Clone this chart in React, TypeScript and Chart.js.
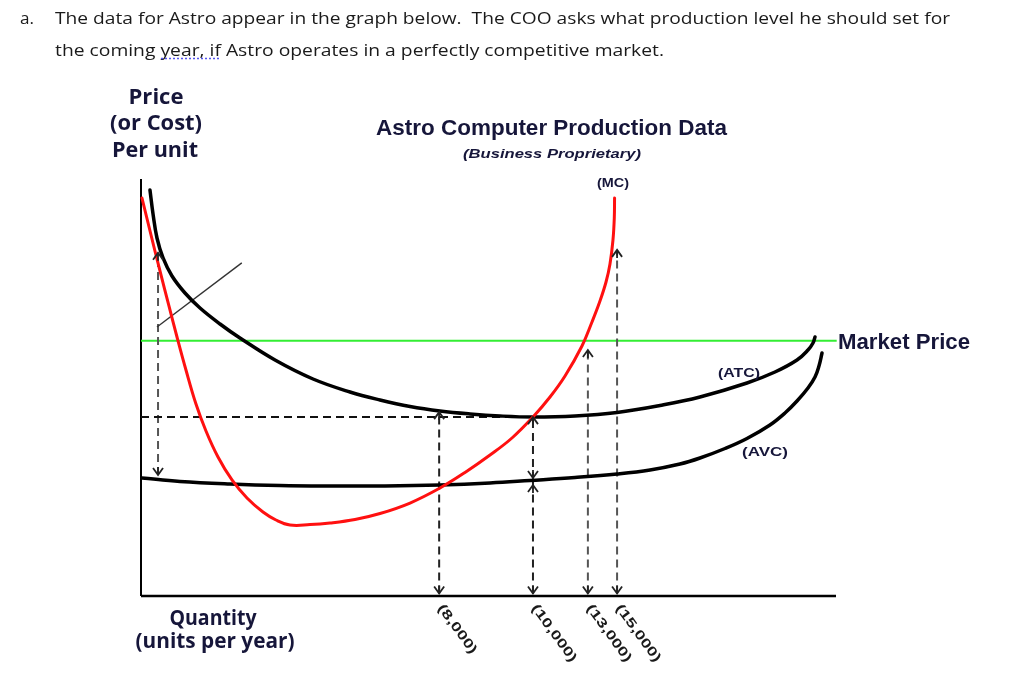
import React, { useEffect, useRef } from "react";
import { Chart, registerables } from "chart.js";

Chart.register(...registerables);

// ---- data (abstract chart units: 0..100 on both axes) ----
const mcPoints: [number, number][] = [
  [0.14, 95.44], [1.44, 86.57], [2.73, 77.94], [4.03, 69.54], [5.18, 62.11], [6.47, 54.2],
  [7.91, 46.04], [9.35, 39.57], [11.08, 33.33], [13.09, 27.82], [15.25, 23.5], [17.55, 20.14],
  [19.42, 18.23], [21.44, 17.03], [24.32, 17.12], [27.19, 17.51], [30.79, 18.35], [34.39, 19.78],
  [38.71, 22.3], [43.02, 25.9], [46.62, 29.62], [50.22, 33.81], [53.38, 37.89], [56.4, 42.93],
  [58.85, 47.72], [61.01, 52.76], [63.45, 59.95], [64.89, 65.71], [66.04, 70.74], [66.91, 75.3],
  [67.48, 79.62], [67.91, 85.37], [68.1, 90.65], [68.14, 95.44],
];
const atcPoints: [number, number][] = [
  [1.29, 97.36], [1.73, 91.61], [2.3, 85.85], [3.17, 81.06], [4.46, 76.74], [6.33, 72.66],
  [8.49, 69.06], [11.37, 65.23], [14.24, 61.87], [19.28, 56.59], [24.75, 52.04], [30.07, 48.92],
  [34.39, 47.0], [38.71, 45.44], [43.02, 44.36], [47.34, 43.65], [51.65, 43.17], [56.4, 42.93],
  [62.45, 43.17], [68.49, 44.0], [74.68, 45.68], [80.43, 47.72], [87.19, 51.08], [91.22, 53.72],
  [94.39, 56.59], [95.97, 58.99], [96.69, 60.67], [96.98, 62.11],
];
const avcPoints: [number, number][] = [
  [0.14, 28.3], [5.61, 27.46], [12.81, 26.86], [20.0, 26.5], [27.19, 26.38], [35.11, 26.38],
  [43.02, 26.62], [50.22, 27.1], [55.97, 27.7], [62.45, 28.42], [68.49, 29.26], [73.24, 30.22],
  [77.55, 31.65], [80.43, 33.09], [84.03, 35.37], [87.19, 37.77], [90.5, 41.01], [92.66, 43.88],
  [94.39, 46.76], [95.97, 49.88], [96.98, 52.52], [97.55, 55.16], [97.99, 58.27],
];
const marketPrice = 61.2;
const minAtc = 42.9;
const qtyTicks = [42.9, 56.4, 64.3, 68.5];
const qtyLabels = ["(8,000)", "(10,000)", "(13,000)", "(15,000)"];
// vertical guides: [x, yFrom, yTo]
const guides: [number, number, number][] = [
  [2.45, 29.0, 82.3],
  [42.9, 0.6, 44.1],
  [56.4, 27.8, 42.9],
  [56.4, 0.6, 27.4],
  [64.3, 0.6, 59.0],
  [68.5, 0.6, 83.0],
];
const arrowsUp: [number, number][] = [
  [2.45, 82.3], [42.9, 44.1], [56.4, 42.9], [56.4, 26.6], [64.3, 59.0], [68.5, 83.0],
];
const arrowsDown: [number, number][] = [
  [2.45, 29.0], [42.9, 0.6], [56.4, 28.3], [56.4, 0.6], [64.3, 0.6], [68.5, 0.6],
];
const pointerLine: [number, number][] = [[2.3, 64.5], [14.5, 79.9]];

const toXY = (pts: [number, number][]) => pts.map(([x, y]) => ({ x, y }));

function fitText(
  ctx: CanvasRenderingContext2D,
  text: string,
  x: number,
  y: number,
  width: number,
  font: string,
  color: string,
  align: "left" | "center" = "left"
) {
  ctx.save();
  ctx.font = font;
  ctx.fillStyle = color;
  ctx.textAlign = "left";
  ctx.textBaseline = "alphabetic";
  const w = ctx.measureText(text).width;
  const s = width / w;
  ctx.translate(x, y);
  ctx.scale(s, 1);
  ctx.fillText(text, align === "center" ? -w / 2 : 0, 0);
  ctx.restore();
}

const LABEL = "#16163a";

const annotPlugin = {
  id: "annot",
  afterDatasetsDraw(chart: any) {
    const { ctx } = chart;
    const xs = chart.scales.x;
    const ys = chart.scales.y;
    ctx.save();
    ctx.strokeStyle = "#222";
    ctx.lineWidth = 1.8;
    arrowsDown.forEach(([vx, vy]) => {
      const px = xs.getPixelForValue(vx);
      const py = ys.getPixelForValue(vy);
      ctx.beginPath();
      ctx.moveTo(px - 5, py - 7);
      ctx.lineTo(px, py);
      ctx.lineTo(px + 5, py - 7);
      ctx.moveTo(px, py);
      ctx.lineTo(px, py - 8);
      ctx.stroke();
    });
    arrowsUp.forEach(([vx, vy]) => {
      const px = xs.getPixelForValue(vx);
      const py = ys.getPixelForValue(vy);
      ctx.beginPath();
      ctx.moveTo(px - 5, py + 7);
      ctx.lineTo(px, py);
      ctx.lineTo(px + 5, py + 7);
      ctx.moveTo(px, py);
      ctx.lineTo(px, py + 8);
      ctx.stroke();
    });
    ctx.restore();
  },
  afterDraw(chart: any) {
    const { ctx } = chart;
    const xs = chart.scales.x;
    const ys = chart.scales.y;
    // header text
    const HF = '17px "Open Sans"';
    fitText(ctx, "a.", 20, 24, 14, HF, "#1a1a1a");
    fitText(
      ctx,
      "The data for Astro appear in the graph below.  The COO asks what production level he should set for",
      55, 24, 895, HF, "#1a1a1a"
    );
    fitText(
      ctx,
      "the coming year, if Astro operates in a perfectly competitive market.",
      55, 56, 609, HF, "#1a1a1a"
    );
    ctx.save();
    ctx.strokeStyle = "#5555ee";
    ctx.lineWidth = 1.5;
    ctx.setLineDash([2, 2]);
    ctx.beginPath();
    ctx.moveTo(161, 58.5);
    ctx.lineTo(221, 58.5);
    ctx.stroke();
    ctx.restore();

    // axis titles
    const BF = 'bold 22px "Open Sans"';
    fitText(ctx, "Price", 156, 104, 55, BF, LABEL, "center");
    fitText(ctx, "(or Cost)", 156, 130, 92, BF, LABEL, "center");
    fitText(ctx, "Per unit", 155, 157, 86, BF, LABEL, "center");
    fitText(ctx, "Quantity", 213, 625, 87, BF, LABEL, "center");
    fitText(ctx, "(units per year)", 215, 648, 159, BF, LABEL, "center");

    const AF = 'bold 22px "Liberation Sans"';
    fitText(ctx, "Astro Computer Production Data", 376, 135, 351, AF, LABEL);
    fitText(ctx, "(Business Proprietary)", 463, 158, 178, 'italic bold 13px "Liberation Sans"', LABEL);
    fitText(ctx, "(MC)", 597, 187, 32, 'bold 13px "Liberation Sans"', LABEL);
    fitText(ctx, "(ATC)", 718, 377, 42, 'bold 13px "Liberation Sans"', LABEL);
    fitText(ctx, "(AVC)", 742, 456, 46, 'bold 13px "Liberation Sans"', LABEL);
    fitText(ctx, "Market Price", 838, 349, 132, AF, LABEL);

    // rotated quantity tick labels
    const axisY = ys.getPixelForValue(0);
    qtyTicks.forEach((v, i) => {
      const px = xs.getPixelForValue(v);
      ctx.save();
      ctx.translate(px + 1, axisY + 10);
      ctx.rotate((54 * Math.PI) / 180);
      ctx.font = 'bold 13px "Liberation Sans"';
      ctx.fillStyle = "#1a1a1a";
      ctx.textBaseline = "middle";
      ctx.textAlign = "left";
      ctx.scale(1.4, 1);
      ctx.fillText(qtyLabels[i], 0, 0);
      ctx.restore();
    });
  },
};

export default function App() {
  const ref = useRef<HTMLCanvasElement | null>(null);
  useEffect(() => {
    if (!ref.current) return;
    const dashed = (pts: [number, number][], color: string, order: number) => ({
      data: toXY(pts),
      borderColor: color,
      borderWidth: 2,
      borderDash: [8, 5],
      pointRadius: 0,
      showLine: true,
      clip: false as any,
      order,
    });
    const curve = (pts: [number, number][], color: string, width: number, order: number) => ({
      data: toXY(pts),
      borderColor: color,
      borderWidth: width,
      pointRadius: 0,
      showLine: true,
      tension: 0.4,
      borderCapStyle: "round",
      borderJoinStyle: "round",
      clip: false,
      order,
    });
    const datasets: any[] = [
      curve(mcPoints, "#ff1010", 3, 0),
      curve(atcPoints, "#000", 3.5, 1),
      curve(avcPoints, "#000", 3.5, 1),
      {
        data: toXY(pointerLine),
        borderColor: "#333",
        borderWidth: 1.4,
        pointRadius: 0,
        showLine: true,
        clip: false,
        order: 2,
      },
      dashed([[0, minAtc], [56.4, minAtc]], "#111", 3),
      ...guides.map(([gx, a, b], i) =>
        dashed([[gx, a], [gx, b]], i === 1 || i === 2 || i === 3 ? "#222" : "#555", 3)
      ),
      {
        data: toXY([[0, marketPrice], [100.1, marketPrice]]),
        borderColor: "#33ee33",
        borderWidth: 2,
        pointRadius: 0,
        showLine: true,
        clip: false,
        order: 4,
      },
      {
        data: toXY([[0, 0], [0, 100]]),
        borderColor: "#000",
        borderWidth: 2,
        pointRadius: 0,
        showLine: true,
        clip: false,
        order: 5,
      },
      {
        data: toXY([[0, 0], [100, 0]]),
        borderColor: "#000",
        borderWidth: 2.5,
        pointRadius: 0,
        showLine: true,
        clip: false,
        order: 5,
      },
    ];
    const chart = new Chart(ref.current, {
      type: "scatter",
      data: { datasets },
      options: {
        animation: false,
        responsive: false,
        events: [],
        layout: { padding: { left: 141, right: 183, top: 179, bottom: 86 } },
        scales: {
          x: { type: "linear", min: 0, max: 100, display: false },
          y: { type: "linear", min: 0, max: 100, display: false },
        },
        plugins: { legend: { display: false }, tooltip: { enabled: false } },
      },
      plugins: [annotPlugin],
    });
    return () => chart.destroy();
  }, []);
  return (
    <div style={{ position: "absolute", left: 0, top: 0, width: 1019, height: 682, background: "#fff" }}>
      <canvas ref={ref} width={1019} height={682} style={{ display: "block" }} />
    </div>
  );
}
